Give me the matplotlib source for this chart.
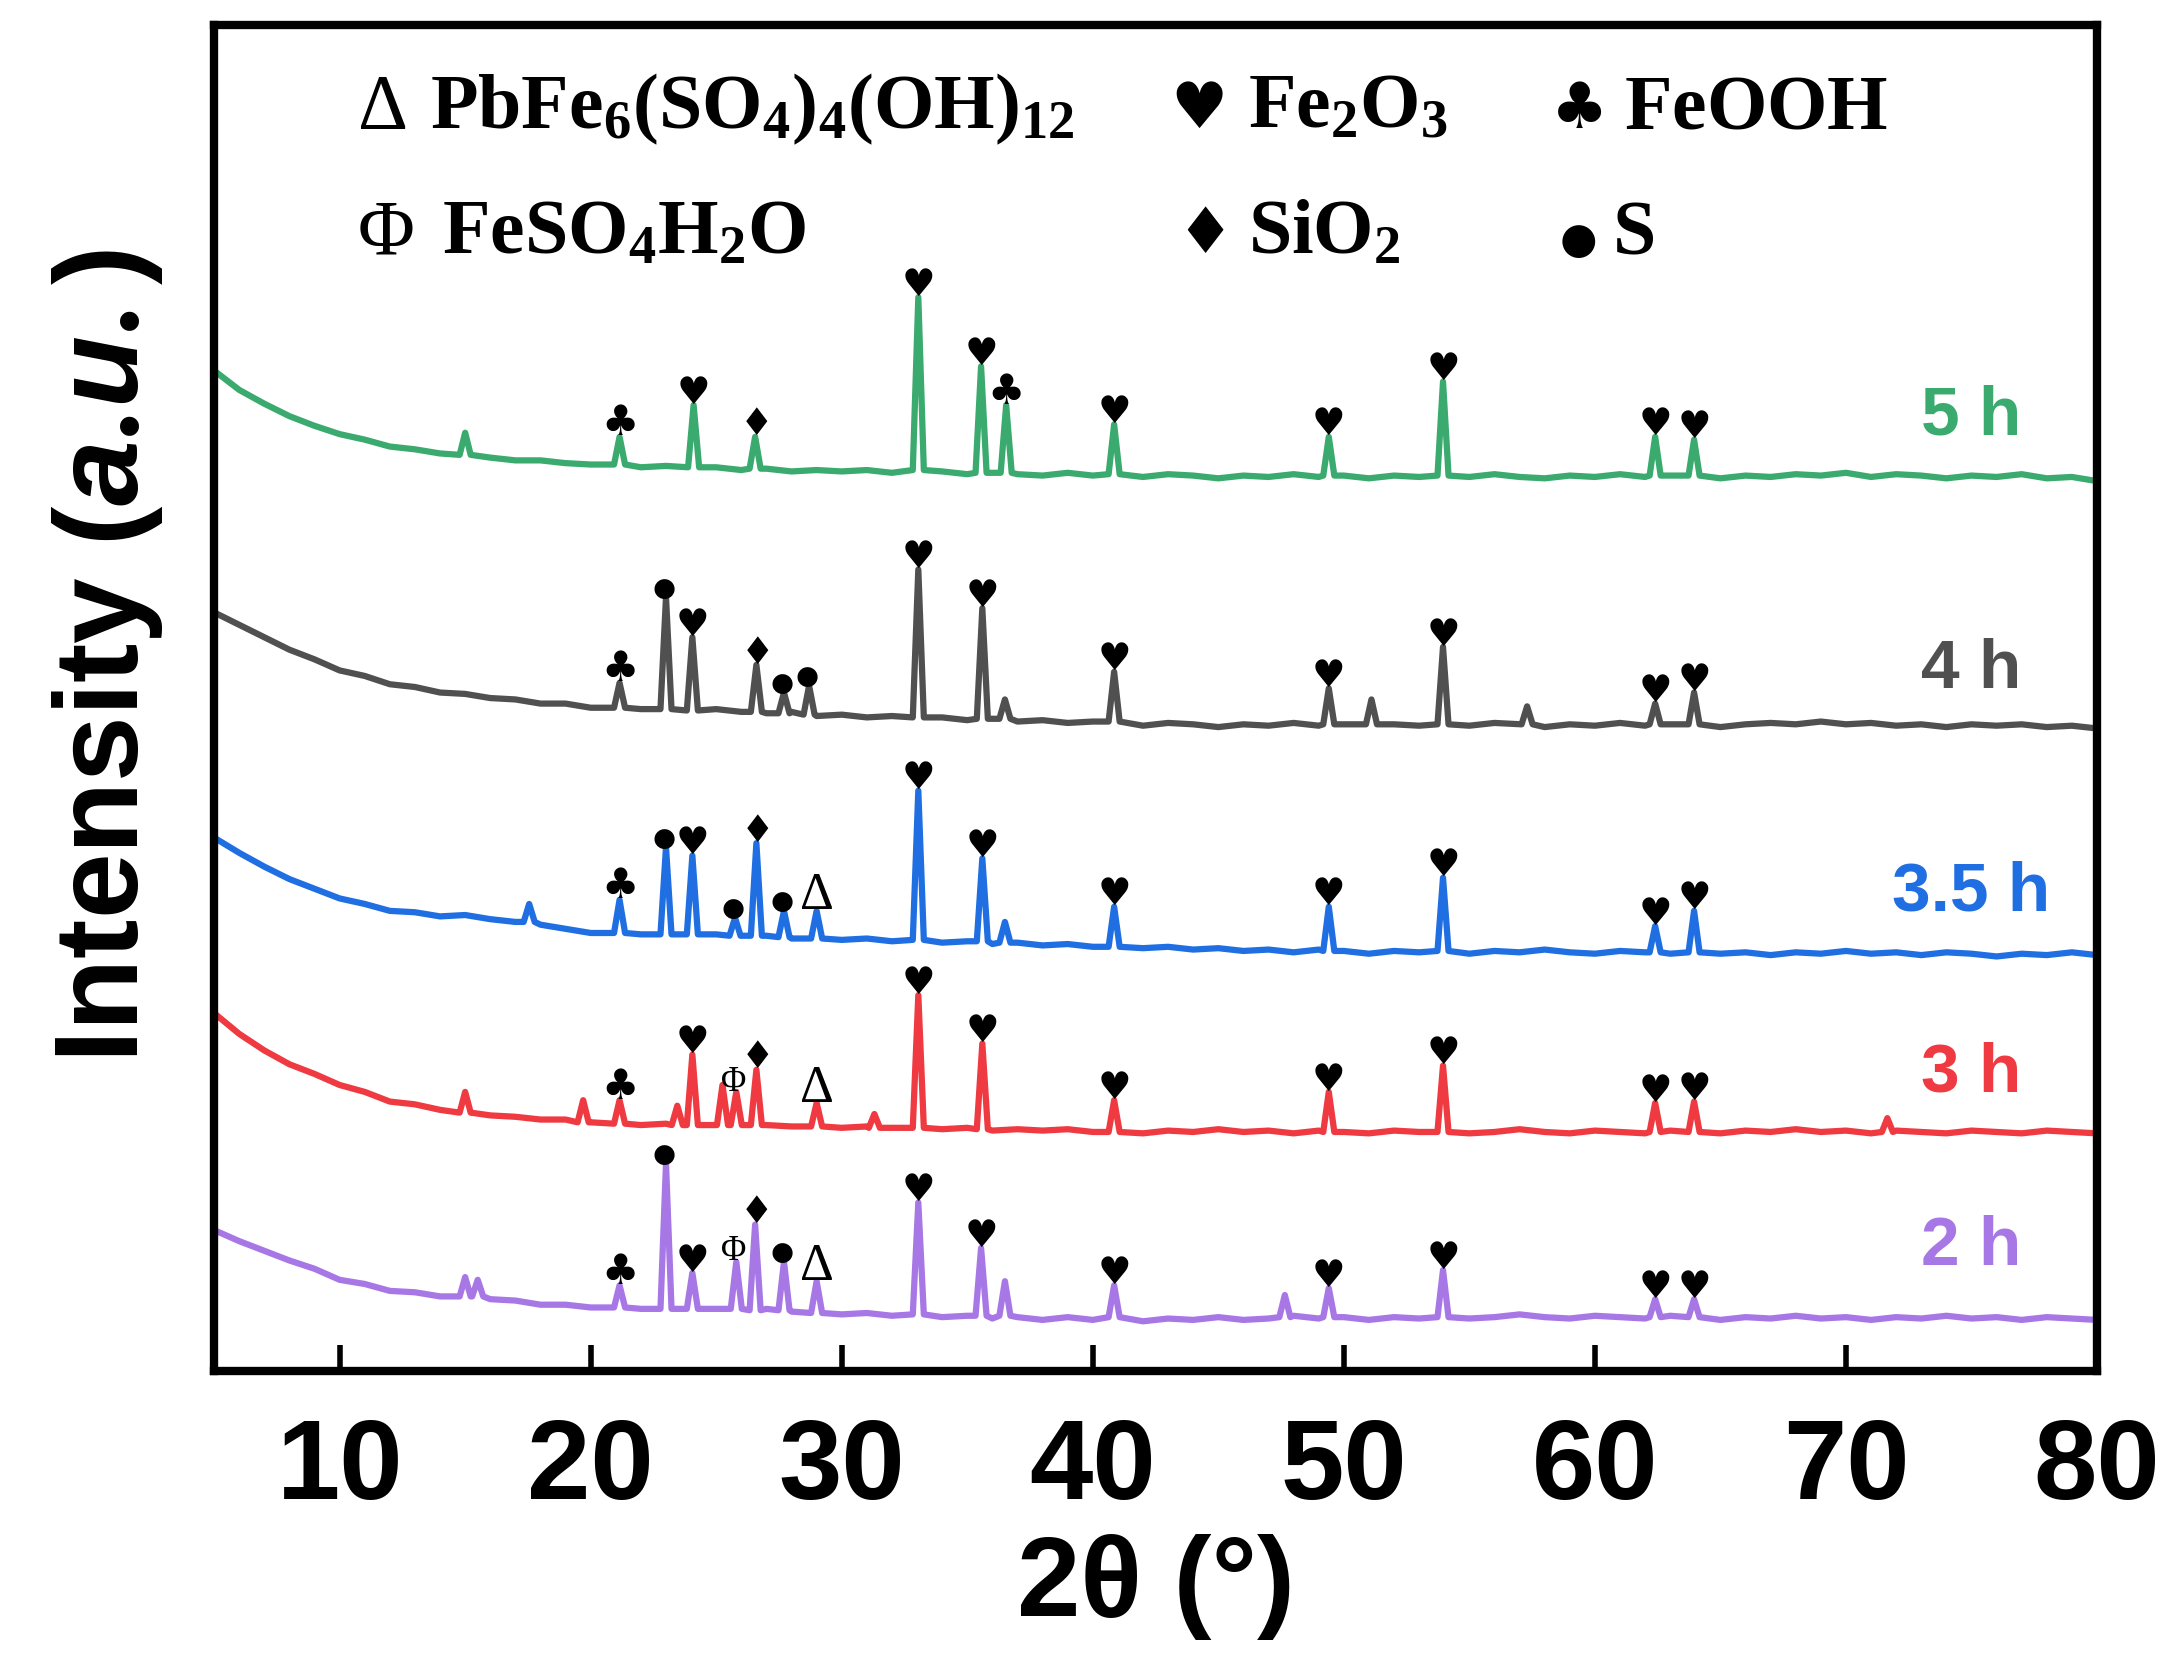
import numpy as np
import matplotlib.pyplot as plt

plt.rcParams['font.family'] = ['Liberation Sans', 'DejaVu Sans']
plt.rcParams['font.weight'] = 'bold'
plt.rcParams['axes.labelweight'] = 'bold'
plt.rcParams['mathtext.fontset'] = 'custom'
plt.rcParams['mathtext.rm'] = 'Liberation Serif:bold'
plt.rcParams['mathtext.bf'] = 'Liberation Serif:bold'
plt.rcParams['mathtext.it'] = 'Liberation Sans:italic:bold'

# 2theta grid for baseline readings (deg)
grid = list(range(5, 81))

# baselines (a.u., offsets included), read every 1 deg
base_5h = [724, 710, 700, 691, 684, 678, 674, 669, 667, 664,
           662, 661, 659, 659, 657, 656, 655, 654, 655, 653,
           654, 652, 653, 651, 652, 651, 652, 650, 651, 651,
           649, 650, 649, 648, 650, 648, 649, 647, 649, 648,
           646, 648, 647, 649, 647, 648, 646, 648, 647, 648,
           647, 649, 647, 646, 648, 647, 649, 647, 648, 647,
           646, 648, 647, 649, 648, 650, 647, 649, 648, 646,
           648, 647, 649, 646, 647, 644]
base_4h = [549, 540, 531, 522, 515, 507, 503, 497, 495, 491,
           490, 487, 486, 483, 483, 480, 481, 479, 480, 478,
           479, 477, 476, 477, 474, 475, 473, 474, 472, 473,
           471, 472, 470, 471, 469, 470, 469, 467, 469, 468,
           466, 468, 467, 469, 467, 468, 466, 468, 467, 468,
           467, 469, 467, 466, 468, 467, 469, 467, 468, 467,
           466, 468, 469, 468, 470, 468, 469, 467, 468, 466,
           468, 467, 468, 466, 467, 465]
base_35h = [386, 375, 365, 356, 349, 342, 338, 333, 332, 329,
            330, 327, 325, 323, 320, 317, 318, 316, 317, 315,
            316, 314, 315, 313, 314, 312, 313, 311, 312, 310,
            311, 309, 310, 308, 309, 307, 308, 306, 307, 305,
            306, 304, 305, 303, 305, 304, 302, 304, 303, 304,
            302, 304, 303, 305, 303, 302, 304, 303, 302, 304,
            302, 303, 301, 303, 302, 304, 302, 303, 301, 303,
            302, 300, 302, 301, 303, 301]
base_3h = [259, 244, 232, 222, 215, 207, 202, 195, 193, 189,
           188, 185, 184, 182, 182, 180, 180, 178, 179, 178,
           179, 177, 178, 177, 178, 176, 177, 176, 177, 175,
           176, 174, 175, 174, 175, 173, 174, 172, 174, 173,
           175, 173, 174, 172, 174, 173, 172, 174, 173, 174,
           172, 173, 175, 173, 172, 174, 173, 172, 174, 173,
           172, 174, 173, 175, 173, 174, 172, 174, 173, 172,
           174, 173, 172, 174, 173, 172]
base_2h = [102, 94, 87, 80, 74, 66, 63, 58, 57, 54,
           55, 52, 51, 48, 48, 46, 47, 45, 46, 44,
           45, 44, 45, 43, 44, 41, 42, 40, 41, 39,
           40, 38, 39, 37, 39, 37, 38, 36, 38, 37,
           39, 37, 38, 40, 38, 39, 37, 39, 38, 40,
           38, 39, 41, 39, 38, 40, 39, 38, 40, 39,
           37, 39, 38, 40, 38, 39, 37, 39, 38, 40,
           38, 39, 37, 39, 38, 37]

# peaks: position, top, foot, phase mark
pk_pos_5h = [15.0, 21.15, 24.1, 26.55, 33.05, 35.55, 36.55, 40.85, 49.4, 53.95, 62.4, 63.95]
pk_top_5h = [679, 676, 699, 676, 777, 727, 699, 685, 676, 716, 676, 674]
pk_foot_5h = [663, 656, 654, 653, 652, 650, 650, 649, 648, 648, 648, 648]
pk_mark_5h = ['', '♣', '♥', '♦', '♥', '♥', '♣', '♥', '♥', '♥', '♥', '♥']

pk_pos_4h = [21.15, 23.0, 24.05, 26.6, 27.7, 28.7, 33.05, 35.6, 36.5, 40.85, 49.4, 51.1, 53.95, 57.3, 62.4, 63.95]
pk_top_4h = [498, 560, 531, 511, 491, 496, 580, 552, 486, 506, 494, 486, 524, 481, 483, 491]
pk_foot_4h = [480, 479, 478, 477, 476, 475, 473, 472, 472, 470, 468, 468, 468, 468, 468, 468]
pk_mark_4h = ['♣', '●', '♥', '♦', '●', '●', '♥', '♥', '', '♥', '♥', '', '♥', '', '♥', '♥']

pk_pos_35h = [17.55, 21.15, 23.0, 24.05, 25.75, 26.6, 27.7, 29.0, 33.05, 35.6, 36.5, 40.85, 49.4, 53.95, 62.4, 63.95]
pk_top_35h = [338, 341, 379, 373, 328, 382, 333, 333, 420, 371, 325, 336, 336, 357, 322, 333]
pk_foot_35h = [325, 317, 316, 316, 315, 315, 314, 313, 312, 311, 310, 307, 304, 304, 303, 303]
pk_mark_35h = ['', '♣', '●', '♥', '●', '♦', '●', 'Δ', '♥', '♥', '', '♥', '♥', '♥', '♥', '♥']

pk_pos_3h = [15.0, 19.7, 21.15, 23.45, 24.05, 25.25, 25.8, 26.6, 29.0, 31.3, 33.05, 35.6, 40.85, 49.4, 53.95, 62.4, 63.95, 71.65]
pk_top_3h = [202, 196, 196, 192, 229, 207, 202, 218, 194, 186, 272, 237, 196, 202, 221, 194, 195, 183]
pk_foot_3h = [187, 180, 179, 178, 178, 178, 178, 178, 177, 176, 176, 175, 173, 173, 173, 173, 173, 173]
pk_mark_3h = ['', '', '♣', '', '♥', '', 'Φ', '♦', 'Δ', '', '♥', '♥', '♥', '♥', '♥', '♥', '♥', '']

pk_pos_2h = [15.0, 15.5, 21.15, 23.0, 24.05, 25.8, 26.55, 27.7, 29.0, 33.05, 35.55, 36.5, 40.85, 47.65, 49.4, 53.95, 62.4, 63.95]
pk_top_2h = [68, 66, 62, 150, 71, 79, 106, 79, 65, 122, 89, 65, 62, 55, 60, 73, 52, 52]
pk_foot_2h = [54, 54, 46, 45, 45, 45, 44, 44, 42, 41, 40, 40, 39, 39, 39, 39, 39, 39]
pk_mark_2h = ['', '', '♣', '●', '♥', 'Φ', '♦', '●', 'Δ', '♥', '♥', '', '♥', '', '♥', '♥', '♥', '♥']

labels = ['5 h', '4 h', '3.5 h', '3 h', '2 h']
colors = ['#3aaa6e', '#505050', '#1f6fe2', '#ee3a40', '#a877e6']


def build(base, pos, top, foot):
    keep = [i for i, g in enumerate(grid) if min(abs(g - p) for p in pos) > 0.3]
    x = [grid[i] for i in keep]
    y = [base[i] for i in keep]
    for p, t, f in zip(pos, top, foot):
        x += [p - 0.22, p, p + 0.22]
        y += [f, t, f]
    order = np.argsort(x)
    return np.array(x)[order], np.array(y)[order]


# size, family, nudge (points) for each phase mark
mark_style = {'♥': (27, 'DejaVu Sans', 0), '♣': (30, 'DejaVu Sans', 0),
              '♦': (27, 'DejaVu Sans', 1), '●': (19, 'DejaVu Sans', -1.5),
              'Δ': (38, 'Liberation Serif', 0), 'Φ': (25, 'Liberation Serif', -2)}

fig = plt.figure(figsize=(21.67, 16.72), dpi=100)
ax = fig.add_axes([0.0988, 0.180, 0.8689, 0.805])

series = [
    (base_5h, pk_pos_5h, pk_top_5h, pk_foot_5h, pk_mark_5h, 691),
    (base_4h, pk_pos_4h, pk_top_4h, pk_foot_4h, pk_mark_4h, 507),
    (base_35h, pk_pos_35h, pk_top_35h, pk_foot_35h, pk_mark_35h, 346),
    (base_3h, pk_pos_3h, pk_top_3h, pk_foot_3h, pk_mark_3h, 215),
    (base_2h, pk_pos_2h, pk_top_2h, pk_foot_2h, pk_mark_2h, 90),
]

for (base, pos, top, foot, marks, ly), lab, c in zip(series, labels, colors):
    x, y = build(base, pos, top, foot)
    ax.plot(x, y, color=c, lw=4.5, solid_joinstyle='round')
    for p, t, m in zip(pos, top, marks):
        if not m:
            continue
        fs, fam, dx = mark_style[m]
        ax.annotate(m, xy=(p, t), xytext=(dx, 1), textcoords='offset points',
                    ha='center', va='baseline', fontsize=fs, family=fam,
                    fontweight='normal', color='black')
    ax.text(75, ly, lab, color=c, fontsize=50, ha='center', va='center')

# phase key at the top
ky1, ky2 = 0.9235, 0.8306
tr = ax.transAxes
ax.text(0.0763, ky1, 'Δ', transform=tr, fontsize=56, family='Liberation Serif', fontweight='normal', va='baseline')
ax.text(0.1147, ky1, r'$\mathrm{PbFe_6(SO_4)_4(OH)_{12}}$', transform=tr, fontsize=56, va='baseline')
ax.text(0.5077, ky1, '♥', transform=tr, fontsize=46, family='DejaVu Sans', fontweight='normal', va='baseline')
ax.text(0.549, ky1, r'$\mathrm{Fe_2O_3}$', transform=tr, fontsize=56, va='baseline')
ax.text(0.710, ky1, '♣', transform=tr, fontsize=46, family='DejaVu Sans', fontweight='normal', va='baseline')
ax.text(0.7488, ky1, r'$\mathrm{FeOOH}$', transform=tr, fontsize=56, va='baseline')
ax.text(0.0763, ky2, 'Φ', transform=tr, fontsize=56, family='Liberation Serif', fontweight='normal', va='baseline')
ax.text(0.121, ky2, r'$\mathrm{FeSO_4H_2O}$', transform=tr, fontsize=56, va='baseline')
ax.text(0.511, ky2, '♦', transform=tr, fontsize=46, family='DejaVu Sans', fontweight='normal', va='baseline')
ax.text(0.549, ky2, r'$\mathrm{SiO_2}$', transform=tr, fontsize=56, va='baseline')
ax.text(0.7145, ky2, '●', transform=tr, fontsize=31, family='DejaVu Sans', fontweight='normal', va='baseline')
ax.text(0.7424, ky2, r'$\mathrm{S}$', transform=tr, fontsize=56, va='baseline')

ax.set_xlim(5, 80)
ax.set_ylim(0, 974)
ax.set_xticks(range(10, 81, 10))
ax.set_yticks([])
ax.tick_params(axis='x', direction='in', length=19, width=4, labelsize=82, pad=33)
for s in ax.spines.values():
    s.set_linewidth(6)

ax.set_xlabel('2θ (°)', fontsize=82, fontweight='bold', labelpad=8)
ax.set_ylabel(r'Intensity ($\mathit{a.\!u.}$)', fontsize=85, fontweight='bold')
ax.yaxis.set_label_coords(-0.026, 0.531)

fig.savefig('out.png', dpi=100)
